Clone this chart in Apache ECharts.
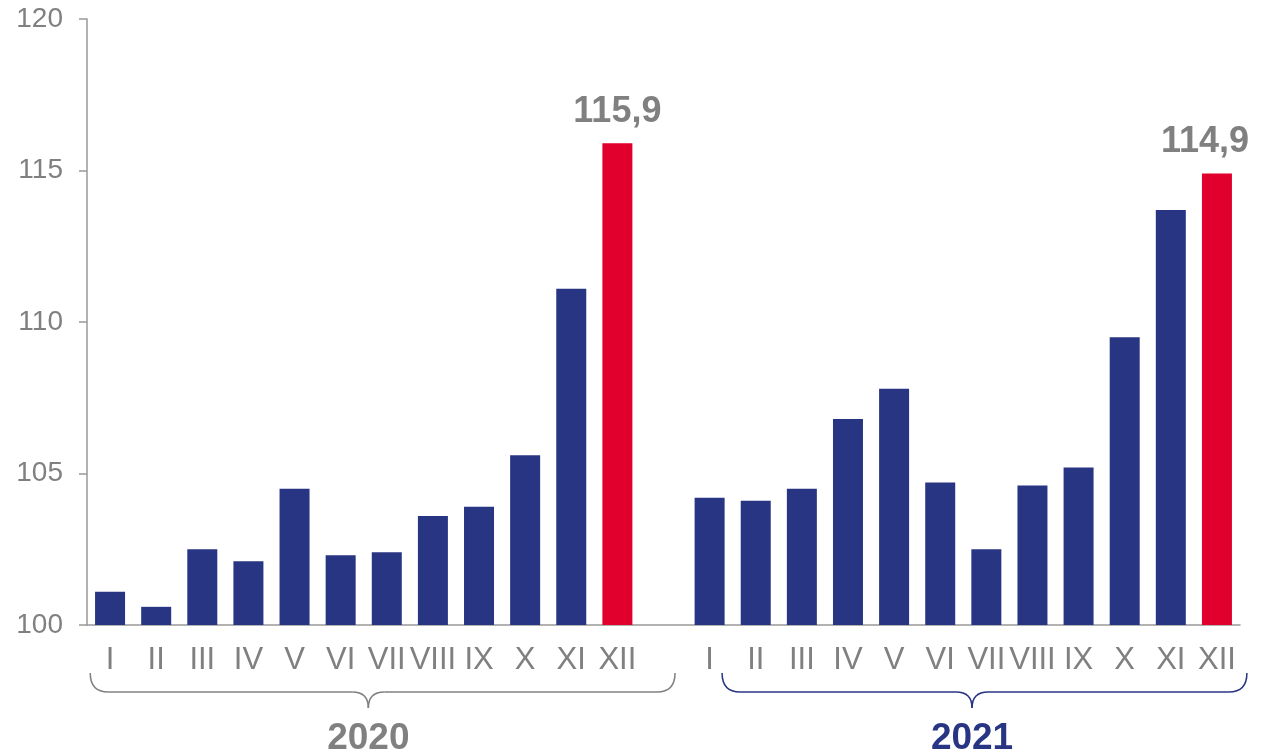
<!DOCTYPE html>
<html>
<head>
<meta charset="utf-8">
<script src="https://cdn.jsdelivr.net/npm/echarts@6/dist/echarts.min.js"></script>
<style>
  html, body { margin: 0; padding: 0; background: #fff; }
  #chart { width: 1276px; height: 754px; }
</style>
</head>
<body>
<div id="chart"></div>
<script>
// data
const years = ['2020', '2021']
const months = ['I', 'II', 'III', 'IV', 'V', 'VI', 'VII', 'VIII', 'IX', 'X', 'XI', 'XII']
const values2020 = [101.1, 100.6, 102.5, 102.1, 104.5, 102.3, 102.4, 103.6, 103.9, 105.6, 111.1, 115.9]
const values2021 = [104.2, 104.1, 104.5, 106.8, 107.8, 104.7, 102.5, 104.6, 105.2, 109.5, 113.7, 114.9]
const yTicks = [100, 105, 110, 115, 120]

const navy = '#283583'
const red = '#e1002d'
const grey = '#808080'
const font = 'Arial, "Liberation Sans", sans-serif'

// one empty slot between the years
const categories = [...months, '', ...months]

const toItem = (v, i, arr) => {
  const last = i === arr.length - 1
  return {
    value: v,
    itemStyle: { color: last ? red : navy },
    label: { show: last }
  }
}
const items2021 = values2021.map(toItem)
items2021[items2021.length - 1].label.offset = [-12, 0]
const seriesData = [...values2020.map(toItem), null, ...items2021]

const chart = echarts.init(document.getElementById('chart'))

chart.setOption({
  animation: false,
  grid: { left: 87, right: 36, top: 19, bottom: 129 },
  xAxis: {
    type: 'category',
    data: categories,
    axisLine: { show: true, lineStyle: { color: '#999', width: 1.5 } },
    axisTick: { show: false },
    axisLabel: { interval: 0, color: grey, fontSize: 31, fontFamily: font, margin: 20 }
  },
  yAxis: {
    type: 'value',
    min: yTicks[0],
    max: yTicks[yTicks.length - 1],
    interval: yTicks[1] - yTicks[0],
    splitLine: { show: false },
    axisLine: { show: true, lineStyle: { color: '#999', width: 1.5 } },
    axisTick: { show: true, length: 8, lineStyle: { color: '#999', width: 1.5 } },
    axisLabel: { color: grey, fontSize: 28, fontFamily: font, margin: 24 }
  },
  series: [
    {
      type: 'bar',
      data: seriesData,
      barWidth: 30,
      label: {
        position: 'top',
        distance: 13,
        color: grey,
        fontSize: 36,
        fontWeight: 'bold',
        fontFamily: font,
        formatter: p => p.value.toFixed(1).replace('.', ',')
      }
    }
  ]
})

// 年份括号
const px = i => chart.convertToPixel({ xAxisIndex: 0 }, i)
const w = px(1) - px(0)
const axisY = chart.convertToPixel({ yAxisIndex: 0 }, yTicks[0])

const brace = (x0, x1, xm, color, text) => {
  const y0 = axisY + 48
  const y1 = axisY + 67
  const y2 = axisY + 83
  const r = 18
  const r2 = 16
  const style = { stroke: color, lineWidth: 1.5, fill: null }
  return [
    { type: 'bezierCurve', shape: { x1: x0, y1: y0, cpx1: x0, cpy1: y1, x2: x0 + r, y2: y1 }, style },
    { type: 'line', shape: { x1: x0 + r, y1: y1, x2: xm - r2, y2: y1 }, style },
    { type: 'bezierCurve', shape: { x1: xm - r2, y1: y1, cpx1: xm, cpy1: y1, x2: xm, y2: y2 }, style },
    { type: 'bezierCurve', shape: { x1: xm, y1: y2, cpx1: xm, cpy1: y1, x2: xm + r2, y2: y1 }, style },
    { type: 'line', shape: { x1: xm + r2, y1: y1, x2: x1 - r, y2: y1 }, style },
    { type: 'bezierCurve', shape: { x1: x1 - r, y1: y1, cpx1: x1, cpy1: y1, x2: x1, y2: y0 }, style },
    {
      type: 'text',
      x: xm,
      y: axisY + 114,
      style: {
        text: text,
        fill: color,
        font: 'bold 37px ' + font,
        align: 'center',
        verticalAlign: 'middle'
      }
    }
  ]
}

chart.setOption({
  graphic: [
    ...brace(px(0) - 0.43 * w, px(12) + 0.25 * w, px(5) + 0.6 * w, grey, years[0]),
    ...brace(px(13) + 0.27 * w, px(24) + 0.65 * w, px(18) + 0.69 * w, navy, years[1])
  ]
})
</script>
</body>
</html>
